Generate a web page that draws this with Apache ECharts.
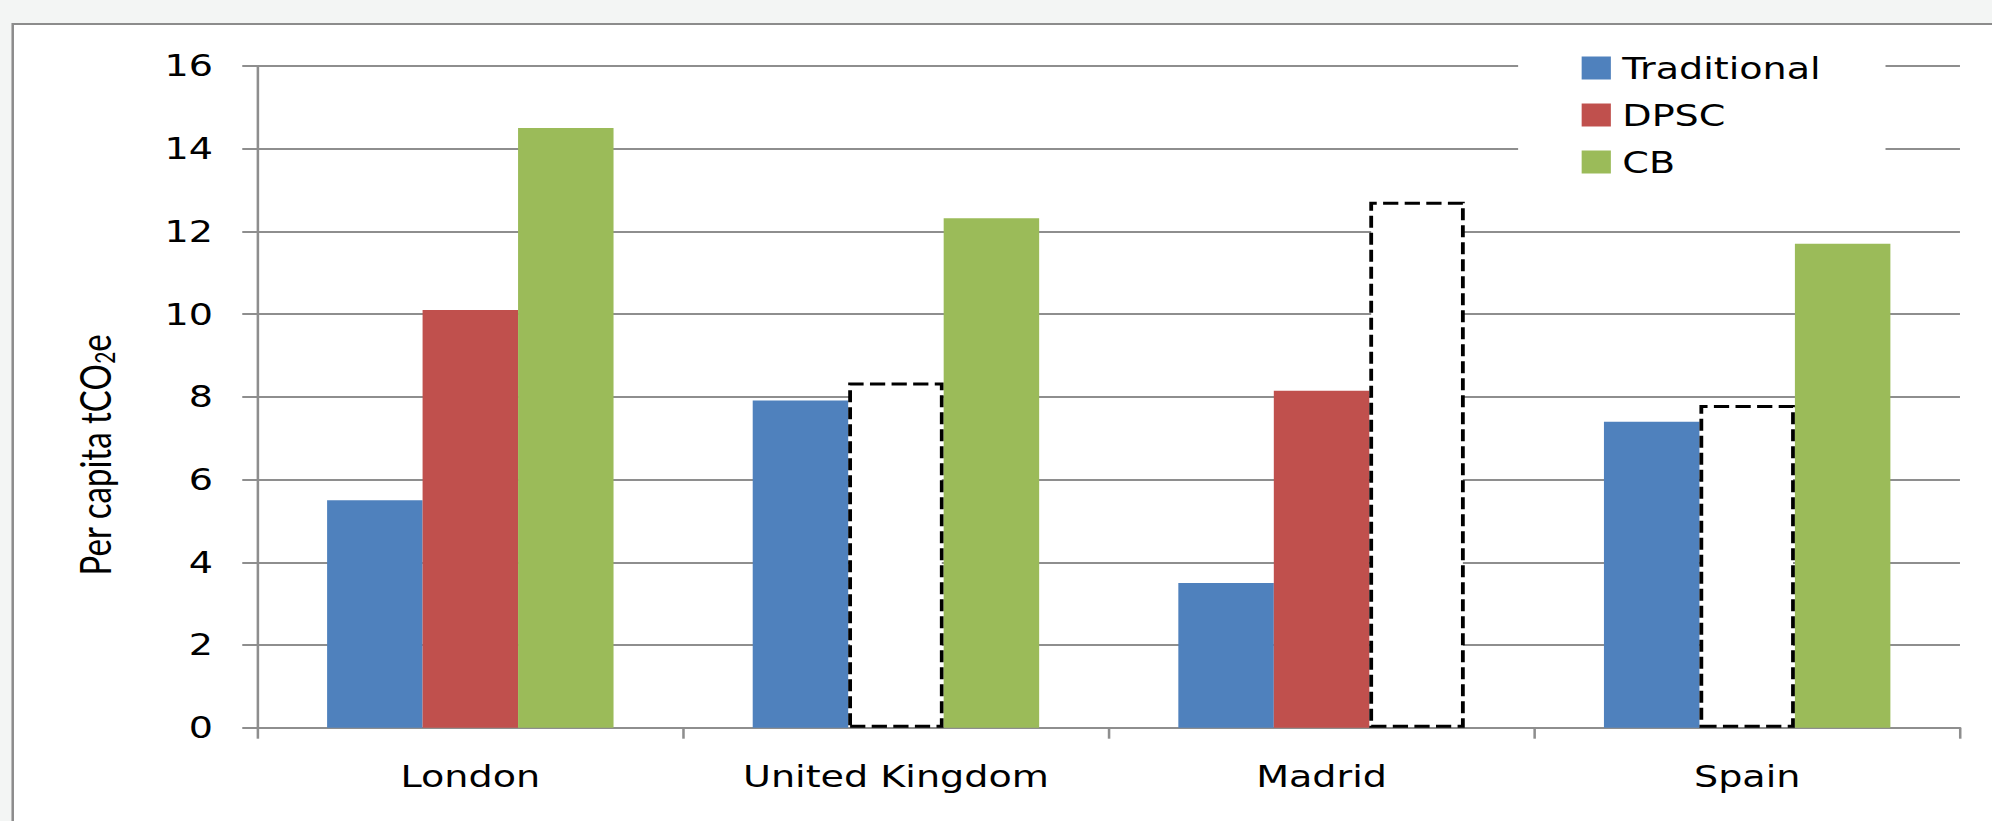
<!DOCTYPE html>
<html>
<head>
<meta charset="utf-8">
<script src="https://cdn.jsdelivr.net/npm/echarts@6/dist/echarts.min.js"></script>
<style>
  html, body { margin: 0; padding: 0; background: #f3f5f4; overflow: hidden; }
  /* the chart is laid out at 1568px and widened to fill the 1992px page */
  #stage { position: absolute; left: 0; top: 0; width: 1568px; height: 821px;
           transform: scaleX(1.2704); transform-origin: 0 0; }
  #frame { position: absolute; left: 9px; top: 23px; width: 1600px; height: 900px;
           background: #fff; border: 2.5px solid #8c8c8c; }
  #chart { position: absolute; left: 0; top: 0; width: 1568px; height: 821px; }
</style>
</head>
<body>
<div id="stage">
  <div id="frame"></div>
  <div id="chart"></div>
</div>
<script>
// Per capita emissions (tCO2e) under three accounting approaches
const categories = ['London', 'United Kingdom', 'Madrid', 'Spain'];
const seriesNames = ['Traditional', 'DPSC', 'CB'];
const traditional = [5.5, 7.91, 3.5, 7.4];
const dpsc = [10.1, 8.35, 8.15, 7.8];
const cb = [14.5, 12.32, 12.72, 11.7];
// bars shown as dashed outlines only
const dpscOutlined = [false, true, false, true];
const cbOutlined = [false, false, true, false];
const yMin = 0;
const yMax = 16;
const yStep = 2;

const colors = ['#4f81bd', '#c0504d', '#9bbb59'];
const gridGray = '#8e8e8e';
const labelFont = '"DejaVu Sans", Verdana, sans-serif';

const dashedStyle = {
  color: '#ffffff',
  borderColor: '#000000',
  borderWidth: 3,
  borderType: [12, 5]
};

function toItems(values, outlined) {
  return values.map((v, i) => (outlined && outlined[i]) ? { value: v, itemStyle: dashedStyle } : v);
}

const chart = echarts.init(document.getElementById('chart'), null, { renderer: 'svg' });

chart.setOption({
  animation: false,
  color: colors,
  grid: { left: 202.7, right: 25.2, top: 66, bottom: 93.3, containLabel: false },
  legend: {
    orient: 'vertical',
    left: 1195,
    top: 36,
    padding: [17, 51, 20, 50],
    backgroundColor: '#ffffff',
    itemWidth: 23,
    itemHeight: 23,
    itemGap: 17,
    icon: 'rect',
    selectedMode: false,
    textStyle: { fontFamily: labelFont, fontSize: 30, color: '#000', lineHeight: 30, padding: [0, 0, 0, 4] },
    data: seriesNames
  },
  xAxis: {
    type: 'category',
    data: categories,
    boundaryGap: true,
    axisLine: { lineStyle: { color: gridGray, width: 2 } },
    axisTick: { show: true, length: 11, lineStyle: { color: gridGray, width: 2 } },
    axisLabel: { fontFamily: labelFont, fontSize: 30, color: '#000', margin: 34 },
    splitLine: { show: false }
  },
  yAxis: {
    type: 'value',
    min: yMin,
    max: yMax,
    interval: yStep,
    axisLine: { show: true, lineStyle: { color: gridGray, width: 2 } },
    axisTick: { show: true, length: 12, lineStyle: { color: gridGray, width: 2 } },
    axisLabel: { fontFamily: labelFont, fontSize: 30, color: '#000', margin: 35 },
    splitLine: { show: true, lineStyle: { color: gridGray, width: 2 } }
  },
  graphic: [{
    type: 'text',
    x: 75,
    y: 455,
    rotation: Math.PI / 2,
    style: {
      text: '{a|Per capita tCO}{b|2}{a|e}',
      align: 'center',
      verticalAlign: 'middle',
      fill: '#000',
      rich: {
        a: { fontFamily: 'Lato, sans-serif', fontSize: 33, fill: '#000' },
        b: { fontFamily: 'Lato, sans-serif', fontSize: 21, fill: '#000', padding: [15, 0, 0, 0] }
      }
    }
  }],
  series: [
    { name: seriesNames[0], type: 'bar', data: toItems(traditional), barGap: '0%', barCategoryGap: '32.7%' },
    { name: seriesNames[1], type: 'bar', data: toItems(dpsc, dpscOutlined), barGap: '0%', barCategoryGap: '32.7%' },
    { name: seriesNames[2], type: 'bar', data: toItems(cb, cbOutlined), barGap: '0%', barCategoryGap: '32.7%' }
  ]
});
</script>
</body>
</html>
